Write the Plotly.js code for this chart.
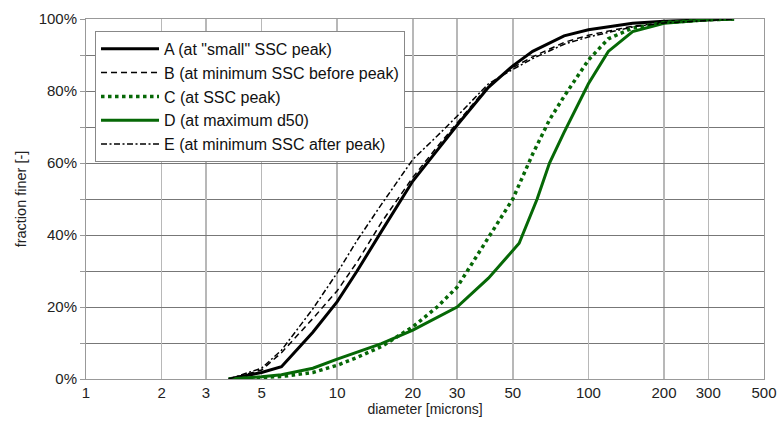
<!DOCTYPE html>
<html>
<head>
<meta charset="utf-8">
<script src="https://cdn.plot.ly/plotly-3.0.1.min.js"></script>
<style>html,body{margin:0;padding:0;background:#fff;}#chart{width:777px;height:423px;}</style>
</head>
<body>
<div id="chart"></div>
<script>
// Diameters (microns) and fraction finer (%)
const xA = [3.7, 5, 6, 8, 10, 12, 15, 20, 25, 30, 40, 50, 60, 80, 100, 150, 200, 300, 380];
const yA = [0, 1.8, 3.4, 13, 21.5, 30, 41, 55, 63.5, 70.5, 81, 87, 91, 95.3, 97, 98.8, 99.4, 99.8, 100];

const xB = [3.7, 5, 6, 8, 10, 12, 15, 20, 25, 30, 40, 50, 60, 80, 100, 150, 200, 300, 380];
const yB = [0, 2.5, 7.3, 16.8, 24.5, 32.5, 43.5, 56, 64.5, 71, 81.5, 86.5, 89.5, 93.5, 95.5, 98, 99, 99.7, 100];

const xC = [3.7, 5, 6, 8, 10, 12, 15, 20, 25, 30, 40, 50, 60, 70, 80, 100, 120, 150, 200, 300, 380];
const yC = [0, 0.3, 0.7, 1.8, 3.8, 6, 9, 14.5, 20, 25.5, 39.5, 50, 62.5, 72, 78.5, 88.6, 94.5, 97.5, 99, 99.8, 100];

const xD = [3.7, 5, 6, 8, 10, 12, 15, 20, 25, 30, 40, 50, 53, 62.5, 70, 80, 100, 120, 150, 200, 300, 380];
const yD = [0, 0.6, 1.2, 3, 5.5, 7.5, 9.8, 13.6, 17, 20, 28, 35.8, 37.7, 50, 60, 68.5, 82, 91, 96.5, 98.8, 99.8, 100];

const xE = [3.7, 5, 6, 8, 10, 12, 15, 20, 25, 30, 40, 50, 60, 80, 100, 150, 200, 300, 380];
const yE = [0, 3, 8, 19.5, 29.5, 38.5, 48.5, 61, 67.5, 73, 82, 86, 89, 93, 95, 97.8, 98.9, 99.7, 100];

const names = ['A (at "small" SSC peak)', 'B (at minimum SSC before peak)', 'C (at SSC peak)', 'D (at maximum d50)', 'E (at minimum SSC after peak)'];
const xTicks = [1, 2, 3, 5, 10, 20, 30, 50, 100, 200, 300, 500];
const yTicks = [0, 20, 40, 60, 80, 100];

const green = '#066806';
const traces = [
  {x: xA, y: yA, name: names[0], legendgroup: 'a', line: {color: '#000', width: 3}},
  {x: xB, y: yB, name: names[1], legendgroup: 'b', line: {color: '#000', width: 1.5, dash: '6px,4px'}},
  {x: xC, y: yC, name: names[2], legendgroup: 'c', line: {color: green, width: 3.5, dash: 'dot'}},
  {x: xD, y: yD, name: names[3], legendgroup: 'd', line: {color: green, width: 3}},
  {x: xE, y: yE, name: names[4], legendgroup: 'e', line: {color: '#000', width: 1.5, dash: '6px,2.5px,2px,2.5px'}}
].map(t => Object.assign({type: 'scatter', mode: 'lines'}, t));

const layout = {
  width: 777, height: 423,
  margin: {l: 86, r: 13, t: 19, b: 44},
  paper_bgcolor: '#fff', plot_bgcolor: '#fff',
  font: {family: 'Liberation Sans, Arial, sans-serif', size: 15, color: '#222'},
  showlegend: true,
  legend: {
    x: 0.0133, y: 0.967, xanchor: 'left', yanchor: 'top',
    bgcolor: '#fff', bordercolor: '#888', borderwidth: 1,
    font: {size: 16, color: '#111'}, tracegroupgap: 0, itemwidth: 58
  },
  xaxis: {
    type: 'log', range: [0, Math.log10(500)],
    tickvals: xTicks, ticktext: xTicks.map(String),
    showgrid: true, gridcolor: '#b8b8b8', gridwidth: 1.5,
    showline: true, linecolor: '#999', mirror: true,
    ticks: '', zeroline: false,
    title: {text: 'diameter [microns]', font: {size: 14}, standoff: 4}
  },
  yaxis: {
    range: [0, 100], tickvals: yTicks, ticktext: yTicks.map(v => v + '%'),
    showgrid: true, gridcolor: '#777', gridwidth: 1,
    minor: {dtick: 10, showgrid: true, gridcolor: '#777', gridwidth: 1, ticks: 'outside', ticklen: 5, tickcolor: '#999'},
    ticks: 'outside', ticklen: 5, tickcolor: '#999',
    showline: true, linecolor: '#999', mirror: true, zeroline: false,
    title: {text: 'fraction finer [-]', font: {size: 14.5}, standoff: 8}
  }
};

Plotly.newPlot('chart', traces, layout, {displayModeBar: false, staticPlot: true});
</script>
</body>
</html>
